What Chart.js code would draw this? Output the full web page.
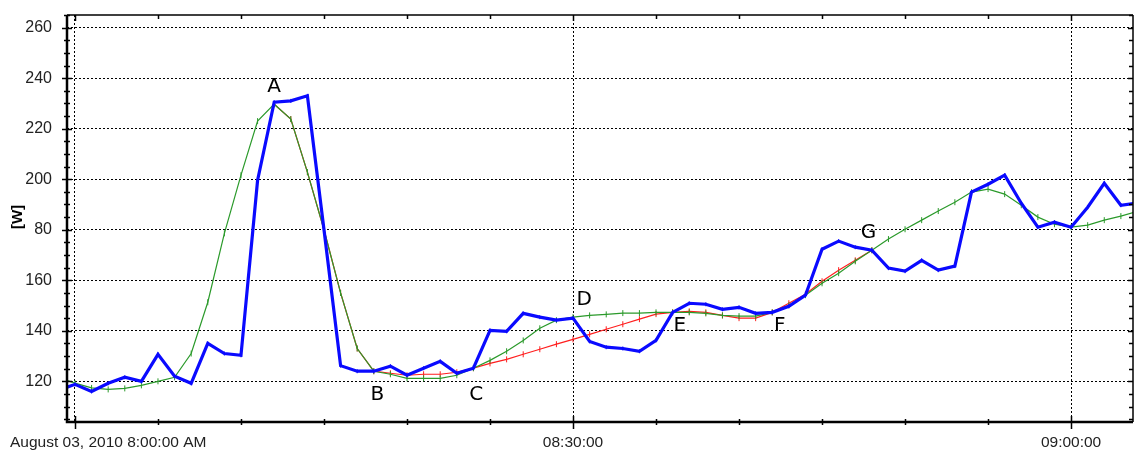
<!DOCTYPE html>
<html>
<head>
<meta charset="utf-8">
<script src="https://cdn.jsdelivr.net/npm/chart.js@4/dist/chart.umd.min.js"></script>
<style>
  html, body { margin: 0; padding: 0; background: #fff; }
  #wrap { width: 1137px; height: 451px; }
</style>
</head>
<body>
<div id="wrap"><canvas id="powerChart" width="1137" height="451"></canvas></div>
<script>
// x values are minutes after 08:00:00
const minutes = [
  -1, 0, 1, 2, 3, 4, 5, 6, 7, 8, 9, 10, 11, 12, 13, 14, 15, 16, 17, 18, 19, 20,
  21, 22, 23, 24, 25, 26, 27, 28, 29, 30, 31, 32, 33, 34, 35, 36, 37, 38, 39, 40,
  41, 42, 43, 44, 45, 46, 47, 48, 49, 50, 51, 52, 53, 54, 55, 56, 57, 58, 59, 60,
  61, 62, 63, 64,
];
const measured = [
  116.4, 118.8, 116, 119.2, 121.6, 120, 130.7, 122, 119.2, 135, 131, 130.3, 199.6,
  230.5, 231, 233, 180, 126.2, 124, 124, 126, 122.4, 125.2, 127.9, 123.2, 125.2,
  140.2, 139.8, 146.9, 145.4, 144.2, 145, 135.8, 133.5, 133, 131.9, 136.2, 147.3,
  150.9, 150.5, 148.5, 149.3, 146.9, 147.3, 149.7, 154.1, 172.3, 175.5, 173.1,
  171.9, 164.8, 163.6, 167.9, 164, 165.6, 194.9, 198, 201.6, 190.5, 181, 183, 181,
  188.9, 198.4, 189.7, 190.6,
];
const smoothed = [
  121.5, 119.3, 117.4, 116.8, 117.2, 118.4, 120, 121.6, 131, 151.3, 178.6, 201.6,
  223, 229.7, 223.8, 202.8, 180, 155, 133, 124, 122.8, 121.2, 121.2, 121.2, 122.4,
  125.2, 128.3, 131.9, 136.2, 141, 144.2, 145.4, 146.1, 146.5, 147, 147, 147.3,
  147.3, 147.3, 146.9, 146.1, 145.8, 145.8, 147.3, 150.1, 154.1, 158.8, 162.8,
  167.5, 171.9, 176.3, 180.2, 183.8, 187.4, 190.9, 194.9, 196.1, 194.1, 189.7, 185,
  182.2, 181, 181.8, 183.8, 185.4, 187.3,
];
const interpMinutes = [
  12, 13, 14, 15, 16, 17, 18, 19, 20, 21, 22, 23, 24, 25, 26, 27, 28, 29, 30,
  31, 32, 33, 34, 35, 36, 37, 38, 39, 40, 41, 42, 43, 44, 45, 46, 47, 48,
];
const interpolated = [
  229.7, 223.8, 202.8, 180, 155, 133, 124, 123.2, 122.4, 122.8, 122.8, 123.6, 125.2,
  127.1, 128.7, 130.7, 132.7, 134.7, 136.6, 138.6, 140.6, 142.6, 144.6, 146.6,
  147.3, 147.7, 147.3, 146.1, 145, 145, 147.3, 150.9, 154.5, 159.6, 164, 167.9, 171.9,
];
const yTickValues = [120, 140, 160, 180, 200, 220, 240, 260];
const yTickLabels = ['120', '140', '160', '80', '200', '220', '240', '260'];
const xTickMinutes = [0, 30, 60];
const xTickLabels = ['August 03, 2010 8:00:00 AM', '08:30:00', '09:00:00'];
const pointNames = ['A', 'B', 'C', 'D', 'E', 'F', 'G'];
const pointNameMinutes = [12.0, 18.22, 24.17, 30.67, 36.44, 42.45, 47.8];
const pointNameValues = [237.3, 115.2, 115.2, 152.9, 142.6, 142.6, 179.4];

const toXY = (xs, ys) => xs.map((x, i) => ({x, y: ys[i]}));

// axis frame, tick marks, x labels, letters and the [W] title
const decorations = {
  id: 'decorations',
  afterDraw(chart) {
    const {ctx, chartArea: area, scales: {x, y}} = chart;
    ctx.save();
    ctx.strokeStyle = '#000';

    ctx.lineWidth = 1.5;
    ctx.beginPath();
    ctx.moveTo(area.left, area.top);
    ctx.lineTo(area.right, area.top);
    ctx.moveTo(area.right, area.top);
    ctx.lineTo(area.right, area.bottom);
    ctx.stroke();

    ctx.lineWidth = 2.5;
    ctx.beginPath();
    ctx.moveTo(area.left, area.top);
    ctx.lineTo(area.left, area.bottom);
    ctx.lineTo(area.right, area.bottom);
    ctx.stroke();

    ctx.lineWidth = 1.5;
    ctx.beginPath();
    for (let v = 105; v <= 265; v += 5) {
      const py = Math.round(y.getPixelForValue(v)) + 0.5;
      const major = v % 20 === 0;
      const h = major ? 5 : 3;
      ctx.moveTo(area.left - h, py);
      ctx.lineTo(area.left + h, py);
      ctx.moveTo(area.right - (major ? 5 : 4), py);
      ctx.lineTo(area.right, py);
    }
    for (let m = 0; m <= 60; m += 5) {
      const px = Math.round(x.getPixelForValue(m)) + 0.5;
      const major = m % 30 === 0;
      ctx.moveTo(px, area.bottom - (major ? 6 : 3));
      ctx.lineTo(px, area.bottom + (major ? 7 : 3));
      ctx.moveTo(px, area.top);
      ctx.lineTo(px, area.top + (major ? 6 : 4));
    }
    ctx.stroke();

    ctx.fillStyle = '#222';
    ctx.font = '15.5px "Liberation Sans", Arial, sans-serif';
    ctx.textBaseline = 'middle';
    xTickMinutes.forEach((m, i) => {
      const px = x.getPixelForValue(m);
      if (i === 0) {
        ctx.textAlign = 'left';
        ctx.fillText(xTickLabels[i], px - 65, 443);
      } else {
        ctx.textAlign = 'center';
        ctx.fillText(xTickLabels[i], px, 443);
      }
    });

    ctx.fillStyle = '#000';
    ctx.font = '20px "DejaVu Sans", sans-serif';
    ctx.textAlign = 'center';
    ctx.textBaseline = 'alphabetic';
    pointNames.forEach((name, i) => {
      ctx.fillText(name, x.getPixelForValue(pointNameMinutes[i]),
          y.getPixelForValue(pointNameValues[i]) + 7);
    });

    ctx.translate(18, 217);
    ctx.rotate(-Math.PI / 2);
    ctx.textBaseline = 'middle';
    ctx.font = 'bold 15px "Liberation Sans", Arial, sans-serif';
    ctx.fillText('[W]', 0, 0);
    ctx.restore();
  },
};

const lineStyle = (color, width, radius) => ({
  borderColor: color,
  borderWidth: width,
  pointStyle: 'line',
  pointRotation: 90,
  pointRadius: radius,
  pointBorderColor: color,
  pointBorderWidth: 1,
  pointHoverRadius: radius,
  tension: 0,
  fill: false,
});

new Chart(document.getElementById('powerChart'), {
  type: 'line',
  data: {
    datasets: [
      {
        label: 'measured',
        data: toXY(minutes, measured),
        order: 0,
        ...lineStyle('#0a0aff', 3.2, 2),
      },
      {
        label: 'smoothed',
        data: toXY(minutes, smoothed),
        order: 1,
        ...lineStyle('#2b9a2b', 1.2, 3),
      },
      {
        label: 'interpolated',
        data: toXY(interpMinutes, interpolated),
        order: 2,
        ...lineStyle('#ff1e1e', 1.2, 3),
      },
    ],
  },
  options: {
    responsive: false,
    animation: false,
    events: [],
    layout: {padding: {top: 15, right: 2, left: 0, bottom: 0}},
    plugins: {legend: {display: false}, tooltip: {enabled: false}},
    scales: {
      x: {
        type: 'linear',
        min: -0.48,
        max: 63.73,
        afterBuildTicks: (s) => {
          s.ticks = xTickMinutes.map((v) => ({value: v}));
        },
        afterFit: (s) => {
          s.height = 29;
          s.paddingLeft = 0;
          s.paddingRight = 0;
        },
        ticks: {display: false},
        grid: {color: '#000', lineWidth: 1, drawTicks: false},
        border: {display: false, dash: [2, 2]},
      },
      y: {
        min: 103.9,
        max: 265,
        afterBuildTicks: (s) => {
          s.ticks = yTickValues.map((v) => ({value: v}));
        },
        afterFit: (s) => {
          s.width = 67;
          s.paddingTop = 0;
          s.paddingBottom = 0;
        },
        ticks: {
          padding: 15,
          color: '#222',
          font: {family: '"Liberation Sans", Arial, sans-serif', size: 16},
          callback: (v) => yTickLabels[yTickValues.indexOf(v)],
        },
        grid: {color: '#000', lineWidth: 1, drawTicks: false},
        border: {display: false, dash: [2, 2]},
      },
    },
  },
  plugins: [decorations],
});
</script>
</body>
</html>
